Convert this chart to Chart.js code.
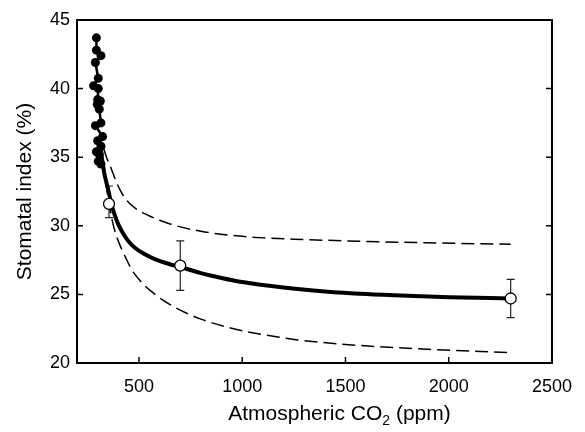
<!DOCTYPE html>
<html>
<head>
<meta charset="utf-8">
<script src="https://cdn.jsdelivr.net/npm/chart.js@4/dist/chart.umd.min.js"></script>
<style>
    html, body { margin: 0; padding: 0; background: #fff; }
</style>
</head>
<body>
<canvas id="chart" width="585" height="432"></canvas>
<script>
(function () {
    'use strict';

    // herbarium / historical record (filled circles, joined)
    var recordCO2 = [294, 294, 316, 289, 303, 280, 303, 300, 313, 298, 308, 316, 289, 324, 300, 316, 294, 308, 303, 316],
        recordIndex = [43.7, 42.8, 42.4, 41.9, 40.75, 40.2, 40.0, 39.2, 39.1, 38.85, 38.5, 37.5, 37.3, 36.5, 36.2, 35.8, 35.4, 35.2, 34.7, 34.5],

        // CO2 enrichment experiments (open circles, with error bars)
        exptCO2 = [355, 700, 2300],
        exptIndex = [31.6, 27.1, 24.7],
        exptLow = [30.6, 25.3, 23.3],
        exptHigh = [32.9, 28.9, 26.1],

        // fitted response and its confidence band
        fitCO2 = [310, 320, 330, 340, 350, 365, 380, 400, 425, 450, 480, 520, 580, 650, 700, 800, 900, 1000, 1200, 1400, 1600, 1800, 2000, 2300],
        fitIndex = [36.3, 35.0, 34.0, 33.3, 32.7, 31.7, 30.9, 30.1, 29.4, 28.85, 28.4, 28.0, 27.55, 27.2, 27.0, 26.55, 26.2, 25.9, 25.5, 25.22, 25.03, 24.9, 24.8, 24.7],
        upperCO2 = [330, 345, 365, 390, 420, 450, 490, 540, 600, 680, 800, 950, 1100, 1300, 1500, 1900, 2300],
        upperIndex = [35.6, 34.9, 34.2, 33.2, 32.3, 31.7, 31.2, 30.8, 30.4, 30.0, 29.6, 29.3, 29.12, 29.0, 28.9, 28.76, 28.65],
        lowerCO2 = [330, 345, 360, 380, 405, 435, 465, 500, 530, 570, 614, 700, 800, 930, 1050, 1150, 1260, 1500, 1900, 2300],
        lowerIndex = [34.6, 32.6, 31.2, 29.8, 28.7, 27.7, 26.8, 26.1, 25.6, 25.1, 24.6, 23.85, 23.2, 22.6, 22.2, 21.95, 21.7, 21.35, 21.0, 20.75],

        xTicks = [500, 1000, 1500, 2000, 2500],
        yTicks = [20, 25, 30, 35, 40, 45],

        FONT = '"Liberation Sans", Arial, Helvetica, sans-serif',

        toPoints = function (xs, ys) {
            return xs.map(function (x, i) { return { x: x, y: ys[i] }; });
        },

        // frame with inward ticks, error bars and the axis titles
        framePlugin = {
            id: 'frame',

            beforeDatasetsDraw: function (chart) {
                var ctx = chart.ctx,
                    x = chart.scales.x,
                    y = chart.scales.y;

                ctx.save();
                ctx.strokeStyle = '#222';
                ctx.lineWidth = 1.2;
                exptCO2.forEach(function (co2, i) {
                    var px = x.getPixelForValue(co2),
                        top = y.getPixelForValue(exptHigh[i]),
                        bottom = y.getPixelForValue(exptLow[i]);

                    ctx.beginPath();
                    ctx.moveTo(px, top);
                    ctx.lineTo(px, bottom);
                    ctx.moveTo(px - 4, top);
                    ctx.lineTo(px + 4, top);
                    ctx.moveTo(px - 4, bottom);
                    ctx.lineTo(px + 4, bottom);
                    ctx.stroke();
                });
                ctx.restore();
            },

            afterDraw: function (chart) {
                var ctx = chart.ctx,
                    area = chart.chartArea,
                    x = chart.scales.x,
                    y = chart.scales.y,
                    parts, widths, total, start;

                ctx.save();
                ctx.strokeStyle = '#000';
                ctx.lineWidth = 2;
                ctx.strokeRect(area.left, area.top, area.right - area.left, area.bottom - area.top);

                ctx.lineWidth = 1.5;
                ctx.beginPath();
                xTicks.forEach(function (v) {
                    var px = x.getPixelForValue(v);
                    ctx.moveTo(px, area.bottom);
                    ctx.lineTo(px, area.bottom - 6);
                });
                yTicks.forEach(function (v) {
                    var py = y.getPixelForValue(v);
                    ctx.moveTo(area.left, py);
                    ctx.lineTo(area.left + 6, py);
                    ctx.moveTo(area.right, py);
                    ctx.lineTo(area.right - 6, py);
                });
                ctx.stroke();

                ctx.fillStyle = '#000';
                ctx.font = '21px ' + FONT;

                // y title
                ctx.save();
                ctx.translate(25, (area.top + area.bottom) / 2);
                ctx.rotate(-Math.PI / 2);
                ctx.textAlign = 'center';
                ctx.textBaseline = 'middle';
                ctx.fillText('Stomatal index (%)', 0, 0);
                ctx.restore();

                // x title, with a subscript 2
                parts = [['Atmospheric CO', '21px', 0], ['2', '14px', 5], [' (ppm)', '21px', 0]];
                widths = parts.map(function (p) {
                    ctx.font = p[1] + ' ' + FONT;
                    return ctx.measureText(p[0]).width;
                });
                total = widths.reduce(function (a, b) { return a + b; }, 0);
                start = (area.left + area.right) / 2 + 25 - total / 2;
                ctx.textAlign = 'left';
                ctx.textBaseline = 'alphabetic';
                parts.forEach(function (p, i) {
                    ctx.font = p[1] + ' ' + FONT;
                    ctx.fillText(p[0], start, 420 + p[2]);
                    start += widths[i];
                });
                ctx.restore();
            }
        },

        plainLabel = function (value) {
            return String(value);
        },

        init = function () {
            var canvas = document.getElementById('chart');

            new Chart(canvas, {
                type: 'scatter',
                data: {
                    datasets: [
                        {
                            label: 'Experiments',
                            data: toPoints(exptCO2, exptIndex),
                            pointRadius: 5.5,
                            pointBackgroundColor: '#fff',
                            pointBorderColor: '#000',
                            pointBorderWidth: 1.3,
                            showLine: false
                        },
                        {
                            label: 'Historical',
                            data: toPoints(recordCO2, recordIndex),
                            pointRadius: 4.5,
                            pointBackgroundColor: '#000',
                            pointBorderColor: '#000',
                            pointBorderWidth: 0,
                            borderColor: '#000',
                            borderWidth: 2.5,
                            showLine: true
                        },
                        {
                            label: 'Fit',
                            data: toPoints(fitCO2, fitIndex),
                            pointRadius: 0,
                            borderColor: '#000',
                            borderWidth: 4,
                            cubicInterpolationMode: 'monotone',
                            showLine: true
                        },
                        {
                            label: 'Upper',
                            data: toPoints(upperCO2, upperIndex),
                            pointRadius: 0,
                            borderColor: '#000',
                            borderWidth: 1.5,
                            borderDash: [13, 6],
                            cubicInterpolationMode: 'monotone',
                            showLine: true
                        },
                        {
                            label: 'Lower',
                            data: toPoints(lowerCO2, lowerIndex),
                            pointRadius: 0,
                            borderColor: '#000',
                            borderWidth: 1.5,
                            borderDash: [13, 6],
                            cubicInterpolationMode: 'monotone',
                            showLine: true
                        }
                    ]
                },
                options: {
                    responsive: false,
                    animation: false,
                    devicePixelRatio: 1,
                    layout: { padding: { top: 20, right: 19, left: 0, bottom: 0 } },
                    plugins: {
                        legend: { display: false },
                        tooltip: { enabled: false }
                    },
                    scales: {
                        x: {
                            type: 'linear',
                            min: 200,
                            max: 2500,
                            afterBuildTicks: function (scale) {
                                scale.ticks = xTicks.map(function (v) { return { value: v }; });
                            },
                            afterFit: function (scale) { scale.height = 69; },
                            grid: { display: false, drawTicks: false },
                            border: { display: false },
                            ticks: {
                                padding: 13,
                                color: '#000',
                                maxRotation: 0,
                                callback: plainLabel,
                                font: { family: FONT, size: 18 }
                            }
                        },
                        y: {
                            type: 'linear',
                            min: 20,
                            max: 45,
                            afterBuildTicks: function (scale) {
                                scale.ticks = yTicks.map(function (v) { return { value: v }; });
                            },
                            afterFit: function (scale) { scale.width = 77; },
                            grid: { display: false, drawTicks: false },
                            border: { display: false },
                            ticks: {
                                padding: 7,
                                color: '#000',
                                callback: plainLabel,
                                font: { family: FONT, size: 18 }
                            }
                        }
                    }
                },
                plugins: [framePlugin]
            });
        };

    init();
}());
</script>
</body>
</html>
